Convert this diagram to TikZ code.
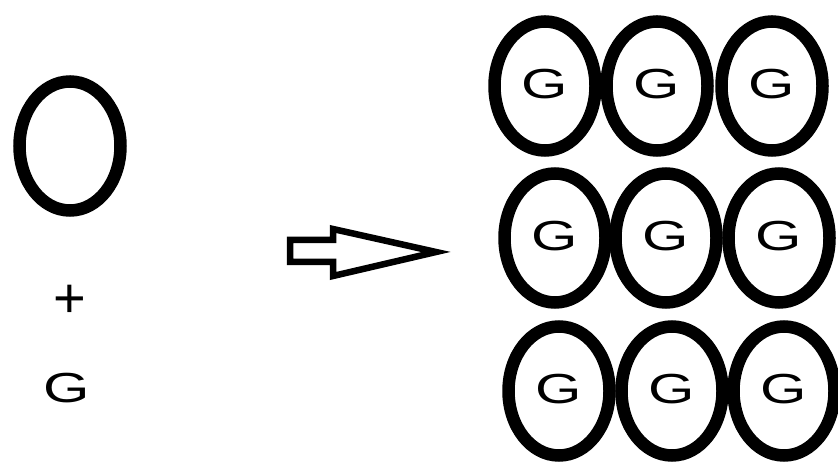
\documentclass[tikz,border=0pt]{standalone}
\usepackage{fontspec}
\setmainfont{Liberation Sans}
\usetikzlibrary{shapes.geometric}
\begin{document}
\begin{tikzpicture}[x=1pt,y=-1pt,
  cell/.style={ellipse,draw=black,line width=12.5pt,minimum width=101pt,minimum height=129pt,inner sep=0pt},
  glabel/.style={inner sep=0pt,font=\fontsize{42}{42}\selectfont},
  plus/.style={inner sep=0pt,font=\fontsize{56}{56}\selectfont},
  blockarrow/.style={draw=black,line width=6.5pt,line join=miter}]
\useasboundingbox (0,0) rectangle (838,462);
\newcommand{\wideG}{\scalebox{1.42}[1]{G}}

% single empty cell, plus sign and free G
\node[cell] (empty) at (70,146) {};
\node[plus] (plussign) at (70,301) {+};
\node[glabel] (freeG) at (67,388) {\wideG};

% block arrow
\draw[blockarrow] (290,240) -- (333,240) -- (333,229) -- (436,252)
  -- (333,276) -- (333,262) -- (290,262) -- cycle;

% 3x3 array of filled cells
\node[cell] (c11) at (545,86) {};
\node[cell] (c12) at (657,86) {};
\node[cell] (c13) at (772,86) {};
\node[cell] (c21) at (555,238) {};
\node[cell] (c22) at (666,238) {};
\node[cell] (c23) at (779,238) {};
\node[cell] (c31) at (559,391) {};
\node[cell] (c32) at (672,391) {};
\node[cell] (c33) at (784,391) {};

\foreach \c in {c11,c12,c13,c21,c22,c23,c31,c32,c33}
  \node[glabel] (g-\c) at ([yshift=2pt]\c.center) {\wideG};
\end{tikzpicture}
\end{document}
